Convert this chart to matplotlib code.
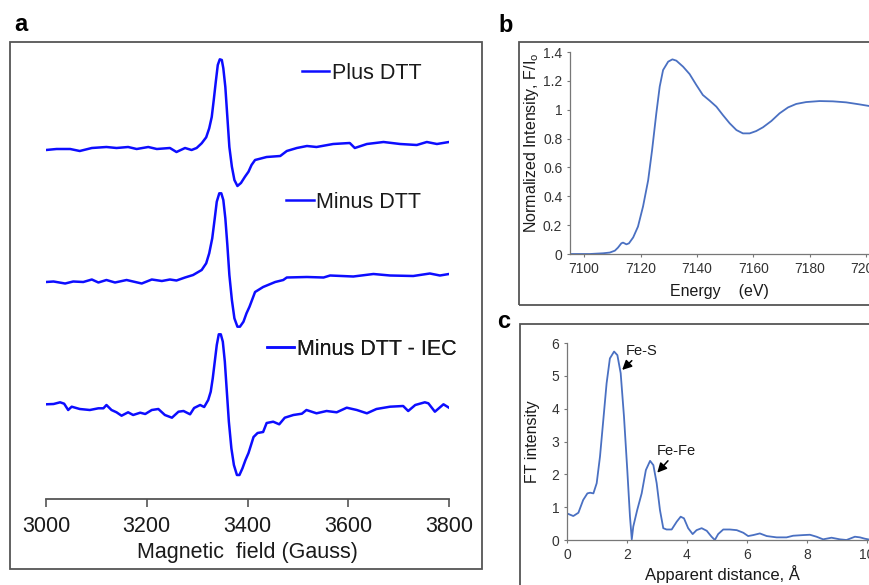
import matplotlib
matplotlib.use('Agg')
import matplotlib.pyplot as plt
from matplotlib.patches import Rectangle
from matplotlib.ticker import FuncFormatter

plt.rcParams['font.family'] = ['Liberation Sans', 'DejaVu Sans']

# ---------------- data ----------------
# Panel a: EPR spectra (field in Gauss, signal in arbitrary units)
plus_field = [3000, 3021, 3048, 3067, 3091, 3120, 3140, 3163, 3180, 3203, 3220, 3246, 3259, 3276, 3289,
              3299, 3309, 3318, 3324, 3329, 3333, 3337, 3341, 3345, 3349, 3352, 3356, 3360, 3364, 3369,
              3374, 3380, 3387, 3395, 3402, 3408, 3415,
              3438, 3465, 3478, 3498, 3518, 3537, 3570, 3603, 3613, 3637, 3670, 3703, 3736, 3756, 3776, 3800]
plus_signal = [0, 1, 1, -1, 2, 3, 2, 3, 1, 3, 1, 2, -2, 2, 0,
               2, 6.7, 12.7, 21.7, 33, 50, 68, 85, 90.7, 90, 81.7, 63, 33, 3, -16.7,
               -30, -36, -33, -26.7, -21.7, -15, -10,
               -7, -6, -1, 2, 4, 3, 6, 7, 2, 6, 8, 6, 5, 8, 6, 8]

minus_field = [3000, 3015, 3038, 3054, 3074, 3091, 3104, 3120, 3137, 3160, 3190, 3210, 3230, 3246, 3259, 3276,
               3292, 3309, 3318, 3324, 3330, 3335, 3339, 3344, 3348, 3352, 3356, 3360, 3364, 3369, 3374,
               3380, 3385, 3392, 3398, 3404, 3415,
               3431, 3455, 3471, 3478, 3518, 3551, 3564, 3610, 3650, 3683, 3729, 3762, 3782, 3800]
minus_signal = [0, 0.5, -1.5, 0.5, 0, 2.5, -0.5, 2, -0.5, 2, -1.5, 2.5, 1, 2.5, 1.5, 4.5,
                7, 12, 18.7, 28.7, 43.7, 63.7, 80.3, 88.7, 88.7, 82, 63.7, 37, 7, -18, -36.3,
                -44.7, -44.7, -39.7, -31.3, -24.7, -10,
                -5, 0, 2, 4.5, 5, 4.5, 6.5, 5.5, 8, 6.5, 6, 8.5, 6.5, 8]

iec_field = [3000, 3015, 3028, 3036, 3044, 3051, 3067, 3087, 3104, 3114, 3120, 3130, 3140, 3150, 3163,
             3173, 3187, 3197, 3210, 3223, 3236, 3250, 3263, 3273, 3286, 3294,
             3306, 3314, 3322, 3327, 3331, 3335, 3339, 3343, 3347, 3351, 3355, 3359, 3363, 3368, 3373,
             3379, 3384, 3390, 3396, 3402, 3412, 3420, 3431, 3438,
             3451, 3463, 3474, 3491, 3508, 3517, 3537, 3557, 3577, 3597, 3617, 3637, 3656, 3683, 3709,
             3719, 3733, 3752, 3759, 3772, 3789, 3800]
iec_signal = [3.7, 4, 5.7, 4.3, -2, 1.3, -1, -2, -0.3, -0.3, 3, -2, -4.3, -7.7, -4.3,
              -7, -4.7, -6, -2, -1, -7, -9.7, -3.7, -3, -6.3, 0,
              3, 1, 8, 16.3, 29.7, 46.3, 63, 73.7, 73.7, 66.3, 46.3, 16.3, -13.7, -40.3, -57,
              -67, -67, -60.3, -52, -45, -29, -25, -24, -15,
              -13.7, -16.3, -9.7, -7, -5.7, -2, -5.3, -3, -4.3, 0.3, -2, -5.3, -1, 1.3, 2,
              -3, 3, 5.7, 4.7, -3.7, 3.7, 0.3]

epr_labels = ["Plus DTT", "Minus DTT", "Minus DTT - IEC"]
epr_offsets = [349, 217, 91]
epr_ticks = [3000, 3200, 3400, 3600, 3800]

# Panel b: XANES
energy = [7095, 7102, 7106.7, 7109.1, 7110.9, 7112, 7113.2, 7113.8, 7115, 7115.9, 7117.4, 7119.1,
          7120.9, 7122.7, 7124.1, 7125.6, 7126.8, 7128, 7129.8, 7131.3, 7132.7, 7135.1, 7137.4,
          7139.8, 7142.1, 7144.5, 7146.9, 7149.2, 7151.6, 7154, 7156.3, 7158.7, 7161, 7163.4,
          7166.4, 7169.3, 7172.3, 7175.2, 7178.7, 7183.5, 7188.2, 7192.9, 7197.6, 7201]
norm_int = [0, 0, 0.005, 0.01, 0.023, 0.044, 0.074, 0.079, 0.067, 0.074, 0.115, 0.19,
            0.33, 0.51, 0.72, 0.975, 1.16, 1.275, 1.333, 1.349, 1.34, 1.298, 1.247,
            1.171, 1.102, 1.063, 1.021, 0.963, 0.906, 0.859, 0.836, 0.836, 0.852, 0.878,
            0.922, 0.975, 1.016, 1.04, 1.053, 1.06, 1.058, 1.051, 1.037, 1.026]

# Panel c: EXAFS Fourier transform
distance = [0, 0.21, 0.38, 0.54, 0.68, 0.77, 0.88, 0.99, 1.1, 1.21, 1.32, 1.43, 1.57, 1.68, 1.79,
            1.9, 2.01, 2.1, 2.16, 2.21, 2.34, 2.49, 2.63, 2.77, 2.88, 2.99, 3.1, 3.21, 3.32, 3.49,
            3.66, 3.79, 3.9, 4.04, 4.19, 4.32, 4.49, 4.66, 4.82, 4.93, 5.04, 5.21, 5.43, 5.66, 5.88,
            6.04, 6.21, 6.43, 6.66, 6.99, 7.32, 7.54, 7.88, 8.1, 8.32, 8.54, 8.82, 9.1, 9.32, 9.6,
            9.77, 9.93, 10.04]
ft_int = [0.81, 0.73, 0.83, 1.22, 1.42, 1.44, 1.42, 1.73, 2.54, 3.65, 4.77, 5.53, 5.74, 5.63, 5.08,
          3.76, 2.13, 0.71, 0.02, 0.41, 0.91, 1.42, 2.13, 2.41, 2.28, 1.73, 0.91, 0.36, 0.32, 0.32,
          0.56, 0.71, 0.66, 0.36, 0.18, 0.3, 0.36, 0.28, 0.1, 0.0, 0.18, 0.32, 0.32, 0.3, 0.22,
          0.12, 0.15, 0.2, 0.12, 0.08, 0.08, 0.13, 0.15, 0.16, 0.1, 0.02, 0.07, 0.02, 0.0, 0.1,
          0.08, 0.04, 0.02]
peak_labels = ["Fe-S", "Fe-Fe"]
peak_tips = [(1.84, 5.18), (3.01, 2.05)]
peak_text = [(2.5, 5.76), (3.66, 2.71)]

# ---------------- figure ----------------
W, H = 869, 585
fig = plt.figure(figsize=(W / 100, H / 100), dpi=100)


def fbox(l, t, r, b):
    return [l / W, 1 - b / H, (r - l) / W, (b - t) / H]


for (l, t, r, b) in [(10, 42, 482, 569), (519, 42, 905, 305), (520, 324, 905, 610)]:
    fig.patches.append(Rectangle((l / W, 1 - b / H), (r - l) / W, (b - t) / H,
                                 transform=fig.transFigure, fill=False,
                                 ec='#555555', lw=1.3))

txt = '#1a1a1a'
blue = '#0d0dff'
steel = '#4a70c2'

# ---- panel a ----
axa = fig.add_axes(fbox(46, 42, 449, 499))
lines = []
for fld, sig, off in [(plus_field, plus_signal, epr_offsets[0]),
                      (minus_field, minus_signal, epr_offsets[1]),
                      (iec_field, iec_signal, epr_offsets[2])]:
    ln, = axa.plot(fld, [v + off for v in sig], color=blue, lw=1.8,
                   solid_joinstyle='round')
    lines.append(ln)
axa.set_xlim(3000, 3800)
axa.set_ylim(0, 457)
for s in ['left', 'top', 'right']:
    axa.spines[s].set_visible(False)
axa.spines['bottom'].set_color('#555555')
axa.spines['bottom'].set_linewidth(1.3)
axa.set_yticks([])
axa.set_xticks(epr_ticks)
axa.tick_params(axis='x', direction='out', length=5.5, width=1.2, color='#555555',
                labelsize=15.5, labelcolor=txt, pad=7)
axa.set_xlabel("Magnetic  field (Gauss)", fontsize=15.5, color=txt)
axa.xaxis.set_label_coords(0.5, -0.095)
axa.xaxis.label.set_va('top')

anchors = [(0.6345, 0.9315), (0.5955, 0.6492), (0.5476, 0.3282)]
for ln, lab, anc in zip(lines, epr_labels, anchors):
    leg = axa.legend(handles=[ln], labels=[lab], loc='center left', bbox_to_anchor=anc,
                     frameon=False, borderpad=0, borderaxespad=0, handlelength=1.28,
                     handletextpad=0.12, fontsize=15.5, labelcolor=txt)
    axa.add_artist(leg)

# ---- panel b ----
axb = fig.add_axes(fbox(570, 52, 869, 254))
axb.plot(energy, norm_int, color=steel, lw=1.3)
axb.set_xlim(7095, 7201)
axb.set_ylim(0, 1.4)
axb.set_xticks([7100, 7120, 7140, 7160, 7180, 7200])
axb.set_yticks([0, 0.2, 0.4, 0.6, 0.8, 1.0, 1.2, 1.4])
axb.yaxis.set_major_formatter(FuncFormatter(lambda v, p: f"{v:g}"))
axb.set_ylabel("Normalized Intensity, F/I$_\\mathregular{o}$", fontsize=11.5, color=txt)
axb.yaxis.set_label_coords(-0.097, 0.55)
axb.set_xlabel("Energy    (eV)", fontsize=11.5, color=txt)
axb.xaxis.set_label_coords(0.5, -0.15)
axb.xaxis.label.set_va('top')

# ---- panel c ----
axc = fig.add_axes(fbox(567, 343, 878, 540))
axc.plot(distance, ft_int, color=steel, lw=1.3)
axc.set_xlim(0, 10.37)
axc.set_ylim(0, 6)
axc.set_xticks([0, 2, 4, 6, 8, 10])
axc.set_yticks([0, 1, 2, 3, 4, 5, 6])
axc.set_ylabel("FT intensity", fontsize=11.5, color=txt)
axc.yaxis.set_label_coords(-0.086, 0.5)
axc.set_xlabel("Apparent distance, Å", fontsize=12, color=txt)
axc.xaxis.set_label_coords(0.5, -0.125)
axc.xaxis.label.set_va('top')
for lab, tip, tp in zip(peak_labels, peak_tips, peak_text):
    axc.annotate(lab, xy=tip, xytext=tp, ha='center', va='center', fontsize=10.5, color=txt,
                 arrowprops=dict(arrowstyle='-|>', color='black', lw=1.1, mutation_scale=14,
                                 shrinkA=0, shrinkB=0))

for ax in (axb, axc):
    for s in ['top', 'right']:
        ax.spines[s].set_visible(False)
    for s in ['left', 'bottom']:
        ax.spines[s].set_color('#777777')
        ax.spines[s].set_linewidth(0.9)
    ax.tick_params(direction='out', length=2.5, width=0.8, color='#777777',
                   labelsize=10, labelcolor='#333333', pad=3)

# panel letters
fig.text(21 / W, 1 - 30.7 / H, 'a', fontsize=17, fontweight='bold', ha='center', va='baseline')
fig.text(505.5 / W, 1 - 31.7 / H, 'b', fontsize=17, fontweight='bold', ha='center', va='baseline')
fig.text(503.5 / W, 1 - 328.3 / H, 'c', fontsize=17, fontweight='bold', ha='center', va='baseline')

fig.savefig('out.png', dpi=100)
